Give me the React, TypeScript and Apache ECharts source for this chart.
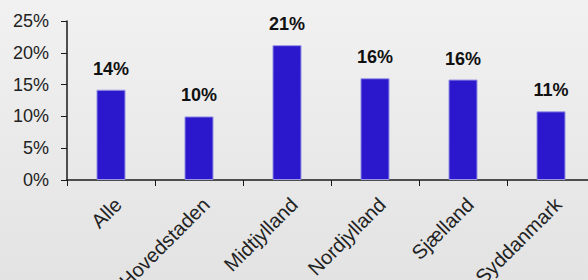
import React, { useEffect, useRef } from "react";
import * as echarts from "echarts";

const categories = ["Alle", "Hovedstaden", "Midtjylland", "Nordjylland", "Sjælland", "Syddanmark"];
const values = [14.2, 10.0, 21.2, 16.0, 15.8, 10.8];
const yTicks = [0, 5, 10, 15, 20, 25];

export default function App() {
  const ref = useRef<HTMLDivElement>(null);
  useEffect(() => {
    if (!ref.current) return;
    const chart = echarts.init(ref.current, undefined, { renderer: "svg" });
    chart.setOption({
      animation: false,
      backgroundColor: new echarts.graphic.LinearGradient(0, 0, 0, 1, [
        { offset: 0, color: "#f1f1f1" },
        { offset: 1, color: "#e3e3e3" },
      ]),
      grid: { left: 67, top: 21, width: 528, height: 159, outerBoundsMode: "none", containLabel: false },
      xAxis: {
        type: "category",
        data: categories,
        boundaryGap: true,
        axisLine: { show: true, lineStyle: { color: "#1a1a1a", width: 1.5 } },
        axisTick: { show: true, length: 6, alignWithLabel: false, lineStyle: { color: "#1a1a1a" } },
        axisLabel: {
          rotate: 45,
          margin: 14,
          fontSize: 20,
          fontFamily: "Liberation Sans",
          color: "#222",
          interval: 0,
          verticalAlign: "top",
        },
      },
      yAxis: {
        type: "value",
        min: yTicks[0],
        max: yTicks[yTicks.length - 1],
        interval: 5,
        splitLine: { show: false },
        axisLine: { show: true, lineStyle: { color: "#1a1a1a", width: 1.5 } },
        axisTick: { show: true, length: 6, lineStyle: { color: "#1a1a1a" } },
        axisLabel: {
          margin: 18,
          fontSize: 18,
          fontFamily: "Liberation Sans",
          color: "#222",
          formatter: (v: number) => `${v}%`,
        },
      },
      series: [
        {
          type: "bar",
          data: values,
          barWidth: "33%",
          itemStyle: { color: "#2b18cc", borderColor: "#9a97e6", borderWidth: 1 },
          label: {
            show: true,
            position: "top",
            distance: 12,
            fontSize: 18,
            fontWeight: "bold",
            fontFamily: "Liberation Sans",
            color: "#111",
            formatter: (p: any) => `${Math.round(p.value)}%`,
          },
        },
      ],
    });
    return () => chart.dispose();
  }, []);
  return <div ref={ref} style={{ position: "fixed", left: 0, top: 0, width: 588, height: 280 }} />;
}
